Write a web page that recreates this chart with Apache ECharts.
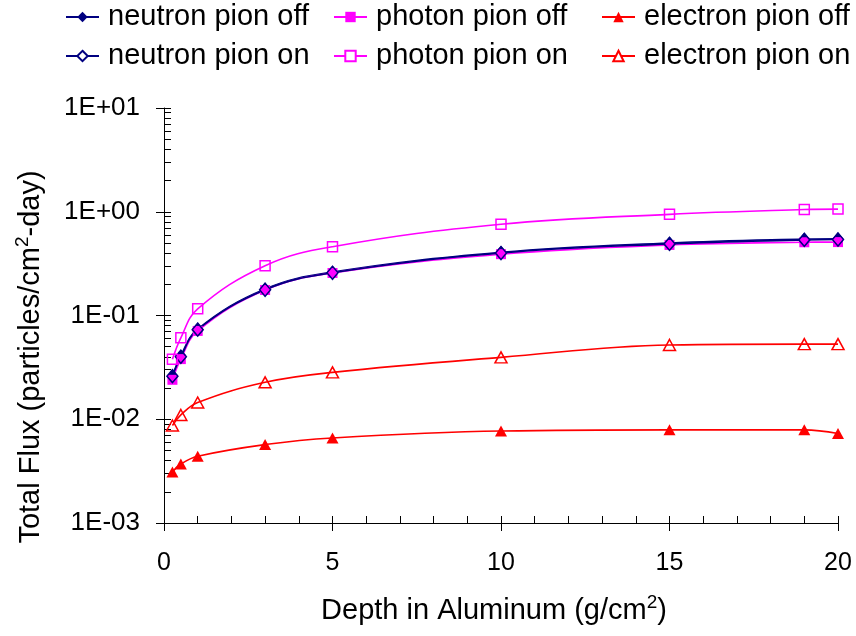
<!DOCTYPE html>
<html>
<head>
<meta charset="utf-8">
<script src="https://cdn.jsdelivr.net/npm/echarts@6/dist/echarts.min.js"></script>
<style>
html, body { margin: 0; padding: 0; background: #fff; }
#chart { width: 856px; height: 636px; }
</style>
</head>
<body>
<div id="chart"></div>
<script>
// depth in aluminum (g/cm2)
var depth = [0.25, 0.5, 1, 3, 5, 10, 15, 19, 20];

// total flux, particles/cm2-day
var neutronOff = [0.026, 0.041, 0.074, 0.18, 0.262, 0.406, 0.50, 0.546, 0.55];
var neutronOn = [0.026, 0.040, 0.073, 0.177, 0.258, 0.40, 0.49, 0.535, 0.54];
var photonOff = [0.024, 0.038, 0.071, 0.176, 0.257, 0.39, 0.479, 0.508, 0.51];
var photonOn = [0.0378, 0.061, 0.116, 0.302, 0.46, 0.757, 0.944, 1.05, 1.06];
var electronOff = [0.0031, 0.0037, 0.0044, 0.0057, 0.0066, 0.0077, 0.0079, 0.0079, 0.0073];
var electronOn = [0.0087, 0.011, 0.0145, 0.0227, 0.0283, 0.0395, 0.052, 0.053, 0.053];

var xTicks = [0, 5, 10, 15, 20];
var yDecades = [0.001, 0.01, 0.1, 1, 10];

var FONT = 'Liberation Sans, Arial, sans-serif';

function pairs(ys)
{
    return depth.map(function (x, i) { return [x, ys[i]]; });
}

// minor tick values 2..9 inside each decade
var yMinor = [];
yDecades.forEach(function (d, i)
{
    if (i === yDecades.length - 1) return;
    for (var k = 1; k <= 9; k++)
    {
        yMinor.push(+(d * k).toPrecision(3));
    }
});
yMinor.push(10);

function sciLabel(v)
{
    var e = Math.round(Math.log10(v));
    var a = Math.abs(e);
    return '1E' + (e < 0 ? '-' : '+') + (a < 10 ? '0' : '') + a;
}

function mkSeries(name, ys, color, symbol, size, open)
{
    return {
        name: name,
        type: 'line',
        data: pairs(ys),
        smooth: 0.4,
        symbol: symbol,
        symbolSize: size,
        lineStyle: { color: color, width: 1.6 },
        itemStyle: open
            ? { color: 'rgba(0,0,0,0)', borderColor: color, borderWidth: 1.5 }
            : { color: color, borderColor: color, borderWidth: 0 },
        emphasis: { disabled: true }
    };
}

function mkLegend(left, a, b)
{
    return {
        orient: 'vertical',
        left: left,
        top: 2,
        padding: 0,
        itemWidth: 33,
        itemHeight: 13,
        itemGap: 9,
        selectedMode: false,
        textStyle: { fontSize: 29, fontFamily: FONT, color: '#000', lineHeight: 30, padding: [0, 0, 0, 4] },
        data: [{ name: a }, { name: b, itemStyle: { color: '#fff' } }]
    };
}

var supStyle = { fontSize: 19, fontFamily: FONT, color: '#000', verticalAlign: 'top', padding: [0, 0, 16, 0] };

var chart = echarts.init(document.getElementById('chart'));

var option = {
    animation: false,
    backgroundColor: '#fff',
    legend: [
        mkLegend(65, 'neutron pion off', 'neutron pion on'),
        mkLegend(333, 'photon pion off', 'photon pion on'),
        mkLegend(601, 'electron pion off', 'electron pion on')
    ],
    grid: { left: 164, right: 18, top: 108, bottom: 113, containLabel: false },
    xAxis: [{
        type: 'value',
        position: 'bottom',
        min: 0,
        max: 20,
        interval: 5,
        name: 'Depth in Aluminum (g/cm{sup|2})',
        nameLocation: 'middle',
        nameGap: 70,
        nameTextStyle: {
            fontSize: 29, fontFamily: FONT, color: '#000', padding: [0, 14, 0, 0],
            rich: { sup: supStyle }
        },
        axisLine: { lineStyle: { color: '#000', width: 1 } },
        axisTick: { length: 8, lineStyle: { color: '#000' } },
        axisLabel: { fontSize: 25, fontFamily: FONT, color: '#000', margin: 28 },
        splitLine: { show: false }
    }, {
        type: 'value',
        position: 'bottom',
        min: 0,
        max: 20,
        interval: 1,
        axisLine: { show: false },
        axisTick: { inside: true, length: 7, lineStyle: { color: '#000' } },
        axisLabel: { show: false },
        splitLine: { show: false }
    }],
    yAxis: [{
        type: 'log',
        position: 'left',
        logBase: 10,
        min: yDecades[0],
        max: yDecades[yDecades.length - 1],
        name: 'Total Flux (particles/cm{sup|2}-day)',
        nameLocation: 'middle',
        nameGap: 116,
        nameTextStyle: {
            fontSize: 29, fontFamily: FONT, color: '#000', padding: [0, 83, 0, 0],
            rich: { sup: supStyle }
        },
        axisLine: { show: true, lineStyle: { color: '#000', width: 1 } },
        axisTick: { show: true, length: 8, lineStyle: { color: '#000' } },
        axisLabel: {
            fontSize: 26, fontFamily: FONT, color: '#000', margin: 24,
            showMinLabel: true, showMaxLabel: true,
            formatter: sciLabel
        },
        splitLine: { show: false }
    }, {
        type: 'log',
        position: 'left',
        logBase: 10,
        min: yDecades[0],
        max: yDecades[yDecades.length - 1],
        axisLine: { show: false },
        axisTick: { show: true, inside: true, length: 7, customValues: yMinor, lineStyle: { color: '#000' } },
        axisLabel: { show: false },
        splitLine: { show: false }
    }],
    series: [
        mkSeries('neutron pion off', neutronOff, '#000080', 'diamond', [11, 13], false),
        mkSeries('photon pion off', photonOff, '#FF00FF', 'rect', 10, false),
        mkSeries('electron pion off', electronOff, '#FF0000', 'triangle', [12, 11], false),
        mkSeries('neutron pion on', neutronOn, '#000080', 'diamond', [11, 13], true),
        mkSeries('photon pion on', photonOn, '#FF00FF', 'rect', 10, true),
        mkSeries('electron pion on', electronOn, '#FF0000', 'triangle', [12, 11], true)
    ]
};

chart.setOption(option);
</script>
</body>
</html>
